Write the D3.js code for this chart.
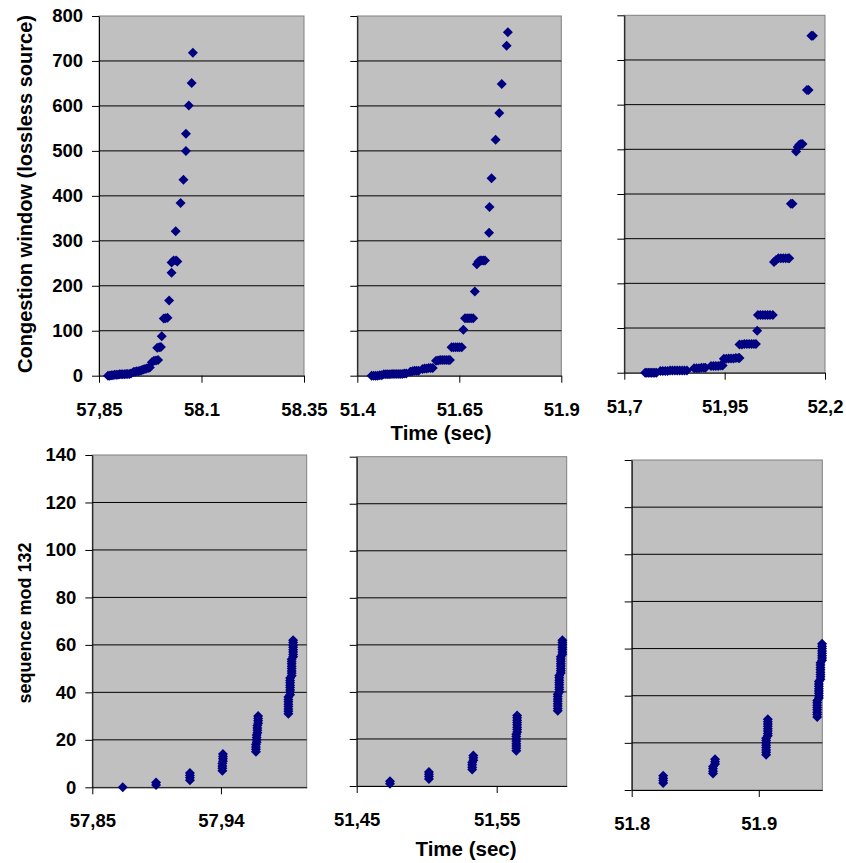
<!DOCTYPE html>
<html>
<head>
<meta charset="utf-8">
<script src="https://cdn.jsdelivr.net/npm/d3@7"></script>
<style>
  body { margin: 0; background: #fff; }
  text { font-family: "Liberation Sans", Arial, sans-serif; font-weight: bold; fill: #000; }
</style>
</head>
<body>
<svg id="chart" width="846" height="863"></svg>
<script>
// Congestion window, three runs (time in sec, window in packets)
var cwndATime = [57.872,57.876,57.880,57.884,57.888,57.892,57.896,57.900,57.904,57.908,57.912,57.916,57.920,57.924,57.928,
  57.934,57.938,57.942,57.946,57.950,57.954,
  57.958,57.962,57.966,57.970,57.974,
  57.979,57.984,57.989,57.994,
  57.992,57.997,58.001,
  58.003,
  58.008,58.012,58.017,
  58.021,58.027,
  58.027,58.032,58.038,58.041,
  58.037,58.049,58.056,58.062,58.062,58.069,58.076,58.079];
var cwndAValue = [0,0,1,1,2,2,2,3,3,3,3,4,4,4,5,
  8,9,10,10,11,12,
  14,15,16,17,18,
  30,33,34,35,
  62,63,64,
  88,
  127,128,129,
  167,229,
  252,256,256,254,
  321,384,436,500,538,601,651,718];

var cwndBTime = [51.435,51.440,51.445,51.450,51.455,51.460,
  51.465,51.470,51.475,51.480,51.485,51.490,51.495,51.500,51.505,51.510,51.515,51.520,
  51.530,51.535,51.540,51.545,51.550,
  51.560,51.565,51.570,51.575,51.580,51.585,
  51.593,51.598,51.603,51.608,51.613,51.618,51.623,51.627,
  51.631,51.636,51.641,51.646,51.651,51.656,
  51.660,
  51.664,51.669,51.674,51.679,51.684,
  51.688,
  51.693,51.697,51.701,51.705,51.709,51.713,
  51.723,51.724,51.729,51.739,51.748,51.754,51.766,51.769];
var cwndBValue = [0,0,0,0,1,1,
  3,3,3,3,4,4,4,4,4,4,5,5,
  9,10,11,11,11,
  15,16,16,17,17,17,
  33,34,35,35,35,35,35,35,
  63,63,63,63,63,63,
  102,
  128,128,128,128,128,
  187,
  248,254,256,256,256,256,
  318,375,439,525,584,649,734,764];

var cwndCTime = [51.752,51.756,51.760,51.764,51.768,51.772,51.776,51.780,
  51.790,51.796,51.802,51.808,51.814,51.820,51.826,51.832,51.838,51.844,51.850,51.856,
  51.874,51.880,51.886,51.892,51.898,51.902,
  51.916,51.922,51.928,51.934,51.940,51.945,
  51.948,51.954,51.960,51.966,51.972,51.978,51.984,51.987,
  51.987,51.993,51.999,52.005,52.011,52.017,52.023,52.028,
  52.031,
  52.033,52.039,52.045,52.051,52.057,52.063,52.070,
  52.073,52.078,52.084,52.090,52.096,52.102,52.108,52.111,
  52.115,52.119,
  52.128,52.132,52.136,52.140,52.144,
  52.155,52.159,
  52.166,52.170];
var cwndCValue = [0,0,0,0,0,0,0,0,
  4,4,4,4,5,5,5,5,5,5,5,5,
  10,10,10,11,11,11,
  15,15,15,15,16,16,
  31,31,32,32,32,33,33,33,
  63,63,64,64,64,64,64,64,
  94,
  129,129,129,129,129,129,129,
  248,252,256,256,256,256,256,256,
  378,378,
  495,505,510,512,512,
  633,633,
  754,754];

// Sequence numbers (mod 132) per burst: burst time and the packets in it
var seqATime = [57.8713,57.8946,57.9183,57.9410,57.9414,57.9645,57.9650,57.9655,57.9660,57.9872,57.9884,57.9895,57.9905];
var seqAValue = [[0],[1,2],[3,4,5,6],[7,8,9,10],[11,12,13,14],
  [15,16,17,18],[19,20,21,22],[23,24,25,26],[27,28,29,30],
  [31,32,33,34,35,36,37,38],[39,40,41,42,43,44,45,46],[47,48,49,50,51,52,53,54],[55,56,57,58,59,60,61,62]];

var seqBTime = [51.4738,51.5016,51.5325,51.5333,51.5640,51.5646,51.5936,51.5947,51.5958,51.5969];
var seqBValue = [[1,2],[3,4,5,6],[7,8,9,10],[11,12,13],
  [15,16,17,18,19,20,21,22],[23,24,25,26,27,28,29,30],
  [32,33,34,35,36,37,38,39],[40,41,42,43,44,45,46,47],[48,49,50,51,52,53,54,55],[56,57,58,59,60,61,62]];

var seqCTime = [51.8248,51.8640,51.8656,51.9058,51.9071,51.9460,51.9473,51.9486,51.9498];
var seqCValue = [[3,4,5,6],[7,8,9,10],[11,12,13],
  [15,16,17,18,19,20,21,22],[23,24,25,26,27,28,29,30],
  [31,32,33,34,35,36,37,38],[39,40,41,42,43,44,45,46],[47,48,49,50,51,52,53,54],[55,56,57,58,59,60,61,62]];

// Axis ticks and their labels (as printed)
var cwndTicks = [0,100,200,300,400,500,600,700,800];
var seqTicks = [0,20,40,60,80,100,120,140];
var xTicksA = [57.85,58.1,58.35], xLabelsA = ["57,85","58.1","58.35"];
var xTicksB = [51.4,51.65,51.9],  xLabelsB = ["51.4","51.65","51.9"];
var xTicksC = [51.7,51.95,52.2],  xLabelsC = ["51,7","51,95","52,2"];
var xTicksD = [57.85,57.94],      xLabelsD = ["57,85","57,94"];
var xTicksE = [51.45,51.55],      xLabelsE = ["51,45","51,55"];
var xTicksF = [51.8,51.9],        xLabelsF = ["51.8","51.9"];

function flatPoints(times, values) {
  var pts = [];
  times.forEach(function(t, i) {
    if (Array.isArray(values[i])) {
      values[i].forEach(function(v) { pts.push([t, v]); });
    } else {
      pts.push([t, values[i]]);
    }
  });
  return pts;
}

var panels = [
  {left: 99, right: 304, top: 16, bottom: 375.7, xDomain: [57.85,58.35], yTicks: cwndTicks,
   xTicks: xTicksA, xLabels: xLabelsA, yLabels: true, pts: flatPoints(cwndATime, cwndAValue)},
  {left: 357.3, right: 561.3, top: 16, bottom: 375.7, xDomain: [51.4,51.9], yTicks: cwndTicks,
   xTicks: xTicksB, xLabels: xLabelsB, yLabels: false, pts: flatPoints(cwndBTime, cwndBValue)},
  {left: 624.3, right: 825, top: 15.3, bottom: 372.7, xDomain: [51.7,52.2], yTicks: cwndTicks,
   xTicks: xTicksC, xLabels: xLabelsC, yLabels: false, pts: flatPoints(cwndCTime, cwndCValue)},
  {left: 92.3, right: 306.7, top: 455, bottom: 787.3, xDomain: [57.85,58.0], yTicks: seqTicks,
   xTicks: xTicksD, xLabels: xLabelsD, yLabels: true, pts: flatPoints(seqATime, seqAValue)},
  {left: 356.7, right: 566.7, top: 456.7, bottom: 786, xDomain: [51.45,51.6], yTicks: seqTicks,
   xTicks: xTicksE, xLabels: xLabelsE, yLabels: false, pts: flatPoints(seqBTime, seqBValue)},
  {left: 631.7, right: 822.3, top: 460, bottom: 790, xDomain: [51.8,51.95], yTicks: seqTicks,
   xTicks: xTicksF, xLabels: xLabelsF, yLabels: false, pts: flatPoints(seqCTime, seqCValue)}
];

var svg = d3.select('#chart');
svg.append('rect').attr('width', 846).attr('height', 863).attr('fill', '#fff');

var diamond = d3.symbol().type(d3.symbolSquare).size(50);

panels.forEach(function(p) {
  var yMax = p.yTicks[p.yTicks.length - 1];
  var x = d3.scaleLinear().domain(p.xDomain).range([p.left, p.right]);
  var y = d3.scaleLinear().domain([0, yMax]).range([p.bottom, p.top]);
  var g = svg.append('g');

  g.append('rect')
    .attr('x', p.left).attr('y', p.top)
    .attr('width', p.right - p.left).attr('height', p.bottom - p.top)
    .attr('fill', '#c0c0c0').attr('stroke', '#808080').attr('stroke-width', 1);

  // horizontal gridlines
  g.selectAll('line.grid')
    .data(p.yTicks.filter(function(d) { return d > 0 && d < yMax; }))
    .enter().append('line')
      .attr('class', 'grid')
      .attr('x1', p.left).attr('x2', p.right)
      .attr('y1', function(d) { return y(d); })
      .attr('y2', function(d) { return y(d); })
      .attr('stroke', '#000').attr('stroke-width', 1);

  var yAxis = d3.axisLeft(y).tickValues(p.yTicks).tickSize(7).tickSizeOuter(0).tickPadding(9)
    .tickFormat(function(d) { return p.yLabels ? d : ''; });
  var ya = g.append('g').attr('transform', 'translate(' + p.left + ',0)').call(yAxis);

  var xAxis = d3.axisBottom(x).tickValues(p.xTicks).tickSize(7).tickSizeOuter(0).tickPadding(20)
    .tickFormat(function(d, i) { return p.xLabels[i]; });
  var xa = g.append('g').attr('transform', 'translate(0,' + p.bottom + ')').call(xAxis);

  [ya, xa].forEach(function(a) {
    a.attr('font-family', null).attr('font-size', null);
    a.selectAll('path, line').attr('stroke', '#000').attr('stroke-width', 1);
    a.selectAll('text').style('font-size', '18.5px');
  });

  g.selectAll('path.pt')
    .data(p.pts)
    .enter().append('path')
      .attr('class', 'pt')
      .attr('d', diamond)
      .attr('transform', function(d) { return 'translate(' + x(d[0]) + ',' + y(d[1]) + ') rotate(45)'; })
      .attr('fill', '#000080');
});

svg.append('text')
  .attr('transform', 'translate(32,194) rotate(-90)')
  .attr('text-anchor', 'middle')
  .style('font-size', '20px')
  .text('Congestion window (lossless source)');

svg.append('text')
  .attr('transform', 'translate(31,623) rotate(-90)')
  .attr('text-anchor', 'middle')
  .style('font-size', '18px')
  .text('sequence mod 132');

svg.append('text')
  .attr('x', 441).attr('y', 440)
  .attr('text-anchor', 'middle')
  .style('font-size', '20.5px')
  .text('Time (sec)');

svg.append('text')
  .attr('x', 466).attr('y', 856)
  .attr('text-anchor', 'middle')
  .style('font-size', '20.5px')
  .text('Time (sec)');
</script>
</body>
</html>
